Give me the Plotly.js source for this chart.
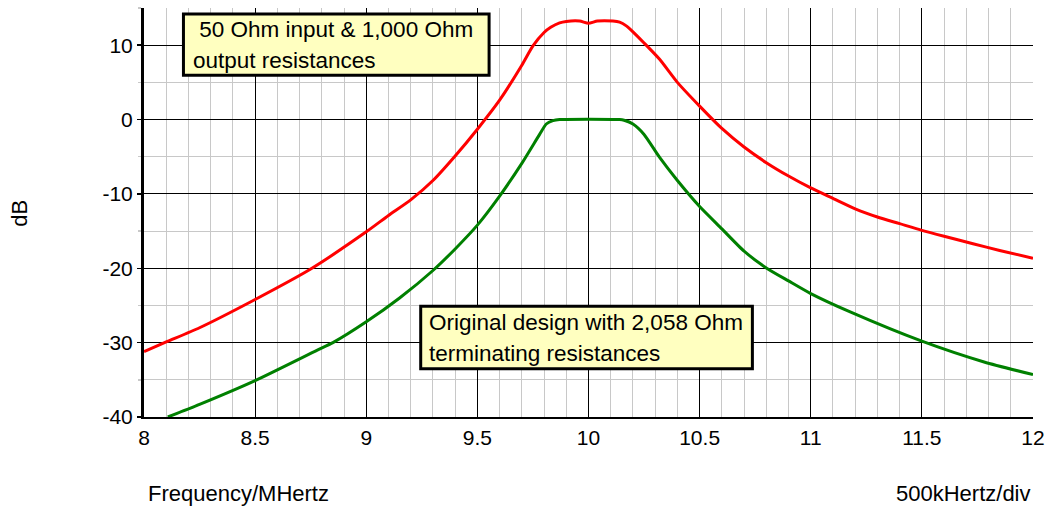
<!DOCTYPE html>
<html>
<head>
<meta charset="utf-8">
<script src="https://cdn.plot.ly/plotly-3.0.1.min.js"></script>
<style>html,body{margin:0;padding:0;background:#fff;}#chart{width:1051px;height:508px;}</style>
</head>
<body>
<div id="chart"></div>
<script>
// Frequency (MHz) and gain (dB)
const redFreq = [8.0, 8.1, 8.25, 8.5, 8.75, 9.0, 9.1, 9.2, 9.3, 9.4, 9.5, 9.6, 9.7, 9.75, 9.8, 9.83, 9.87, 9.9, 9.96, 10.0, 10.04, 10.11, 10.14, 10.17, 10.2, 10.25, 10.32, 10.4, 10.5, 10.6, 10.7, 10.8, 10.9, 11.0, 11.1, 11.2, 11.3, 11.4, 11.5, 11.6, 11.73, 11.85, 12.0];
const redDb   = [-31.2, -29.9, -28.0, -24.2, -20.1, -15.1, -12.9, -10.8, -8.2, -4.9, -1.3, 2.6, 7.3, 9.9, 11.7, 12.4, 13.0, 13.2, 13.25, 12.95, 13.25, 13.25, 13.1, 12.6, 11.8, 10.3, 8.1, 5.0, 1.8, -1.2, -3.7, -5.8, -7.6, -9.2, -10.6, -12.0, -13.1, -14.0, -14.9, -15.7, -16.7, -17.6, -18.65];

const greenFreq = [8.107, 8.25, 8.5, 8.78, 8.85, 9.0, 9.15, 9.3, 9.4, 9.5, 9.6, 9.7, 9.78, 9.81, 9.84, 9.87, 10.14, 10.16, 10.2, 10.25, 10.32, 10.4, 10.5, 10.6, 10.7, 10.8, 10.9, 11.0, 11.18, 11.5, 11.78, 12.0];
const greenDb   = [-40.0, -38.3, -35.1, -31.0, -30.0, -27.2, -24.0, -20.3, -17.4, -14.2, -10.3, -5.9, -2.0, -0.6, -0.15, 0.0, 0.0, -0.1, -0.6, -2.0, -5.1, -8.2, -11.7, -14.7, -17.7, -19.95, -21.7, -23.4, -25.9, -29.8, -32.6, -34.3];

const xTickVals = [8, 8.5, 9, 9.5, 10, 10.5, 11, 11.5, 12];
const xTickText = ['8', '8.5', '9', '9.5', '10', '10.5', '11', '11.5', '12'];
const yTickVals = [-40, -30, -20, -10, 0, 10];
const yTickText = ['-40', '-30', '-20', '-10', '0', '10'];

const box1Lines = ['\u00a050 Ohm input & 1,000 Ohm', 'output resistances'];
const box2Lines = ['Original design with 2,058 Ohm', 'terminating resistances'];
const xTitle = 'Frequency/MHertz';
const xScaleText = '500kHertz/div';
const yTitle = 'dB';

const FONT = 'Liberation Sans, Arial, Helvetica, sans-serif';

const traces = [
  {x: redFreq, y: redDb, type: 'scatter', mode: 'lines', line: {color: '#ff0000', width: 3, shape: 'spline', smoothing: 0.6}, hoverinfo: 'skip'},
  {x: greenFreq, y: greenDb, type: 'scatter', mode: 'lines', line: {color: '#008000', width: 3, shape: 'spline', smoothing: 0.6}, hoverinfo: 'skip'}
];

const layout = {
  width: 1051, height: 508,
  margin: {l: 144, r: 18, t: 8, b: 91, pad: 0},
  paper_bgcolor: '#ffffff', plot_bgcolor: '#ffffff',
  showlegend: false,
  font: {family: FONT, size: 21, color: '#000'},
  xaxis: {
    range: [8, 12], tickvals: xTickVals, ticktext: xTickText,
    showgrid: true, gridcolor: '#000', gridwidth: 1,
    minor: {dtick: 0.1, showgrid: true, gridcolor: '#c8c8c8', gridwidth: 1},
    showline: true, linecolor: '#000', linewidth: 2,
    ticks: 'outside', ticklen: 1, tickcolor: 'rgba(0,0,0,0)',
    zeroline: false, tickfont: {family: FONT, size: 21, color: '#000'},
    fixedrange: true
  },
  yaxis: {
    range: [-40, 15], tickvals: yTickVals, ticktext: yTickText,
    showgrid: true, gridcolor: '#000', gridwidth: 1,
    minor: {dtick: 5, tick0: 0, showgrid: true, gridcolor: '#c8c8c8', gridwidth: 1, ticks: 'outside', ticklen: 3, tickcolor: '#c8c8c8'},
    showline: true, linecolor: '#000', linewidth: 3,
    ticks: 'outside', ticklen: 4, tickcolor: '#000', tickwidth: 1.5,
    zeroline: false, tickfont: {family: FONT, size: 21, color: '#000'},
    fixedrange: true
  },
  shapes: [
    {type: 'rect', xref: 'x', yref: 'y', x0: 8.1775, x1: 9.5527, y0: 5.96, y1: 14.19,
     line: {color: '#000', width: 3}, fillcolor: '#ffffc0', layer: 'above'},
    {type: 'rect', xref: 'x', yref: 'y', x0: 9.245, x1: 10.7374, y0: -33.5, y1: -25.11,
     line: {color: '#000', width: 3}, fillcolor: '#ffffc0', layer: 'above'}
  ],
  annotations: [
    {xref: 'x', yref: 'y', x: 8.2126, y: 12.12, text: box1Lines[0], showarrow: false, xanchor: 'left', yanchor: 'middle', font: {family: FONT, size: 22.5, color: '#000'}},
    {xref: 'x', yref: 'y', x: 8.2126, y: 7.96, text: box1Lines[1], showarrow: false, xanchor: 'left', yanchor: 'middle', font: {family: FONT, size: 22.5, color: '#000'}},
    {xref: 'x', yref: 'y', x: 9.2712, y: -27.34, text: box2Lines[0], showarrow: false, xanchor: 'left', yanchor: 'middle', font: {family: FONT, size: 22.5, color: '#000'}},
    {xref: 'x', yref: 'y', x: 9.2712, y: -31.5, text: box2Lines[1], showarrow: false, xanchor: 'left', yanchor: 'middle', font: {family: FONT, size: 22.5, color: '#000'}},
    {xref: 'paper', yref: 'paper', x: 0.002, y: -0.187, text: xTitle, showarrow: false, xanchor: 'left', yanchor: 'middle', font: {family: FONT, size: 22, color: '#000'}},
    {xref: 'paper', yref: 'paper', x: 1.0, y: -0.187, text: xScaleText, showarrow: false, xanchor: 'right', yanchor: 'middle', font: {family: FONT, size: 22, color: '#000'}},
    {xref: 'paper', yref: 'paper', x: -0.14, y: 0.498, text: yTitle, showarrow: false, textangle: -90, xanchor: 'center', yanchor: 'middle', font: {family: FONT, size: 22, color: '#000'}}
  ]
};

Plotly.newPlot('chart', traces, layout, {displayModeBar: false, staticPlot: true});
</script>
</body>
</html>
